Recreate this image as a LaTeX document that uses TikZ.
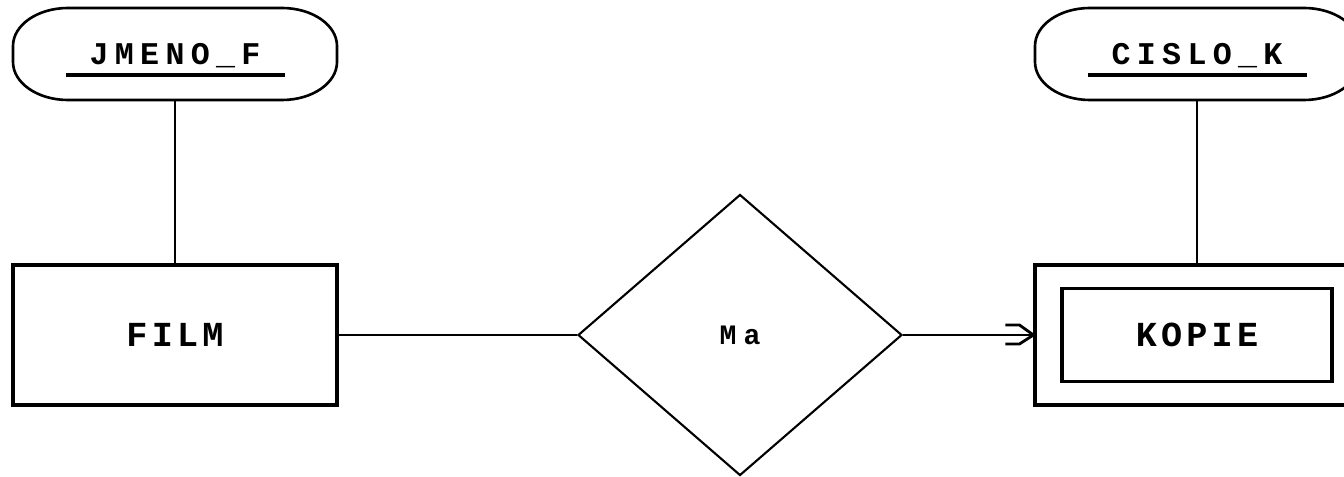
\documentclass[tikz,border=0pt]{standalone}
\usepackage{fontspec}
\usetikzlibrary{shapes.geometric}

\newfontfamily\erfont{Liberation Mono}

% primary key: text over a thick bar
\newcommand{\pkey}[1]{\vtop{\hbox to 4.38cm{\hss#1\hss}\kern2.4pt\hrule height 2.3pt}}

% rounded frame round an attribute node
\newcommand{\capsule}[1]{%
    \draw[line width=1.5pt] ([shift={(-2.14,0.92)}]#1.center) -- ([shift={(2.14,0.92)}]#1.center)
        arc[start angle=90, end angle=0, x radius=1.1cm, y radius=0.76cm] -- ++(0,-0.32)
        arc[start angle=0, end angle=-90, x radius=1.1cm, y radius=0.76cm]
        -- ([shift={(-2.14,-0.92)}]#1.center)
        arc[start angle=270, end angle=180, x radius=1.1cm, y radius=0.76cm] -- ++(0,0.32)
        arc[start angle=180, end angle=90, x radius=1.1cm, y radius=0.76cm] -- cycle;}

\begin{document}
\begin{tikzpicture}[
    entfont/.style={font=\erfont\bfseries\fontsize{20}{21}\selectfont\addfontfeature{LetterSpace=12}},
    entity/.style={draw, line width=1.8pt, minimum width=6.48cm, minimum height=2.8cm, inner sep=0pt, entfont},
    inbox/.style={draw, line width=1.8pt, minimum width=5.4cm, minimum height=1.86cm, inner sep=0pt},
    attrib/.style={minimum width=6.5cm, minimum height=1.84cm, inner sep=0pt, text height=0.62cm, text depth=0.18cm,
        font=\erfont\bfseries\fontsize{18}{19}\selectfont\addfontfeature{LetterSpace=20}},
    relship/.style={draw, diamond, line width=1.2pt, minimum width=6.48cm, minimum height=5.62cm, inner sep=0pt,
        font=\erfont\bfseries\fontsize{16}{17}\selectfont\addfontfeature{LetterSpace=25}},
    link/.style={line width=1.6pt}
]
    \useasboundingbox (0,0) rectangle (26.88,9.52);
    \clip (0,0) rectangle (26.88,9.52);

    % entities
    \node[entity] (film) at (3.5,2.82) {FILM};
    \node[entity] (kopie) at (23.94,2.82) {};
    \node[inbox] (kopiein) at (kopie.center) {};
    \node[entfont] (kopietxt) at (kopie.center) {KOPIE};

    % relationship
    \node[relship] (ma) at (14.8,2.82) {Ma};

    % keys
    \node[attrib] (jmeno) at (3.5,8.44) {\pkey{JMENO\_F}};
    \node[attrib] (cislo) at (23.94,8.44) {\pkey{CISLO\_K}};
    \capsule{jmeno}
    \capsule{cislo}

    \draw[link] (jmeno.south) -- (film.north);
    \draw[link] (cislo.south) -- (kopie.north);
    \draw[link] (film.east) -- (ma.west);
    \draw[link] (ma.east) -- (kopie.west);

    % many side
    \draw[link] ([shift={(-0.56,0.2)}]kopie.west) -- ++(0.28,0) -- (kopie.west);
    \draw[link] ([shift={(-0.56,-0.18)}]kopie.west) -- ++(0.28,0) -- (kopie.west);
\end{tikzpicture}
\end{document}
